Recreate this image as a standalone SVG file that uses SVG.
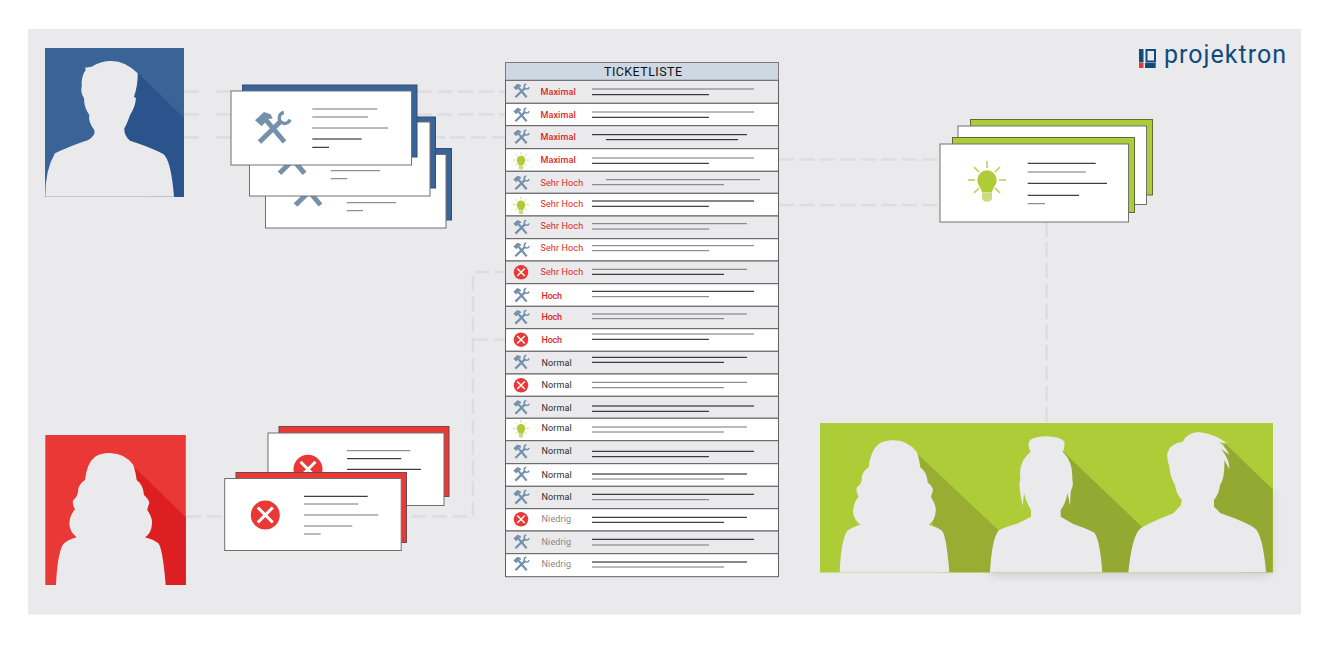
<svg xmlns="http://www.w3.org/2000/svg" xmlns:xlink="http://www.w3.org/1999/xlink" width="1333" height="649" viewBox="0 0 1333 649">
<style>
.sil{fill:#eaeaed}
.card{fill:#fff;stroke:#707070;stroke-width:1}
.k{stroke:#111;stroke-width:1;fill:none}
.g{stroke:#747474;stroke-width:1;fill:none}
.dash{stroke:#dddde0;stroke-width:2.500;stroke-dasharray:15 5.500;fill:none}
.lab{font-family:"Roboto","Liberation Sans",sans-serif;font-size:9px;letter-spacing:.1px}
.hi{fill:#dd1f24}.no{fill:#2b2b2b}.lo{fill:#868686}
.rg{fill:#eaeaed;stroke:#5f5f5f;stroke-width:1}
.rw{fill:#fff;stroke:#5f5f5f;stroke-width:1}
</style>
<defs>
<filter id="blur" filterUnits="userSpaceOnUse" x="800" y="400" width="533" height="230"><feGaussianBlur stdDeviation="5"/></filter>
<path id="fem" class="sil" d="M78 495Q82 400 100 372Q115 358 140 352Q118 335 118 310Q120 285 135 268Q125 250 130 240Q145 230 145 205Q150 190 165 180Q170 130 195 110Q215 98 240 99Q285 100 310 135Q318 160 320 180Q340 195 342 225Q358 240 358 250Q352 265 352 270Q368 295 366 310Q365 340 345 352Q370 358 385 370Q398 385 407 495Z"/>
<symbol id="tool" overflow="visible" viewBox="-20 -20 40 40" width="40" height="40">
<g fill="none" stroke="#7490ab">
<path d="M-6 -8L12.500 14" stroke-width="5"/>
<path d="M-12.500 14L9 -7" stroke-width="5"/>
<path d="M11.800 -15.500A5.500 5.500 0 1 0 18 -8.500" stroke-width="3.500"/>
</g>
<path fill="#7490ab" d="M-17 -7.700L-8 -16L-1.300 -13.700L.7 -9.300L-3.700 -9.300L-10.300 -1.700Z"/>
</symbol>
<symbol id="err" overflow="visible" viewBox="-20 -20 40 40" width="40" height="40">
<circle r="14.500" fill="#e93836"/>
<path d="M-7.500 -7.500L7.500 7.500M7.500 -7.500L-7.500 7.500" stroke="#fff" stroke-width="3" fill="none"/>
</symbol>
<symbol id="bulb" overflow="visible" viewBox="-20 -20 40 40" width="40" height="40">
<path d="M0 -19V-12M-19 0H-12M19 0H12M-13 -13L-8 -8M13 -13L8 -8M-13 13L-8 8M13 13L8 8" stroke="#b5cf50" stroke-width="1.500" fill="none"/>
<path fill="#aecb38" d="M-9.700 0A9.700 9.700 0 1 1 9.700 0C9.700 5 6 7 5 12.500H-5C-6 7 -9.700 5 -9.700 0Z"/>
<path fill="#c9dc84" d="M-5 13H5V19L2.500 21.500H-2.500L-5 19Z"/>
</symbol>
</defs>

<rect x="28" y="29" width="1273" height="585.500" fill="#eaeaed"/>

<g id="connectors">
<path class="dash" d="M184 91.500H200M216 91.500H232M184 114.500H200M216 114.500H232M184 137.500H200M216 137.500H232"/>
<path class="dash" d="M417 91.500H505M417 114.500H505M430 137.500H505"/>
<path class="dash" d="M186 516.500H473V272H505"/>
<path class="dash" d="M473 339.500H505"/>
<path class="dash" d="M779 159.500H940M779 205H940"/>
<path class="dash" d="M1046.500 222V423"/>
</g>

<g id="user-blue">
<rect x="45" y="48" width="139" height="149" fill="#3a6398"/>
<path fill="#2c548c" d="M137 72L184 118V197H150L120 130Z"/>
<path class="sil" d="M45.300 196.700Q45 170 55 153.300Q70 146 88.300 140Q96 135 94.300 130Q88 122 89.300 115Q84 108 84 98.300Q80 92 81.700 86.700Q81 76 85.700 70L85 67.700L91.700 66.700Q100 61 111.700 61Q125 61 137.700 73.300Q138 85 134 96.700L136 98.300Q135 108 130 115Q127 124 124.300 128.300Q124 136 130 140.700Q150 147 163.300 154Q171 160 174 196.700Z"/>
</g>

<g id="cards-blue">
<rect x="277" y="148.500" width="174.500" height="71.500" fill="#3a6398" stroke="#2f4f78"/>
<rect class="card" x="265.500" y="154.500" width="180.500" height="73.500"/>
<use xlink:href="#tool" href="#tool" x="288" y="171"/>
<path class="g" d="M346.700 202.700H396M346.700 210.700H363"/>
<rect x="261" y="117" width="174.500" height="71" fill="#3a6398" stroke="#2f4f78"/>
<rect class="card" x="249.500" y="122" width="180.500" height="74"/>
<use xlink:href="#tool" href="#tool" x="272" y="139.300"/>
<path class="g" d="M330.700 170.700H380M330.700 178.700H347.300"/>
<rect x="242.500" y="85" width="174.500" height="72" fill="#3a6398" stroke="#2f4f78"/>
<rect class="card" x="231" y="91" width="180.500" height="74"/>
<use xlink:href="#tool" href="#tool" x="252" y="108"/>
<path class="g" d="M312.300 109H377.300M312.300 117H368M312.300 128H388.300"/>
<path class="k" d="M312.300 139H361.700M312.300 147.300H329"/>
</g>

<g id="user-red">
<rect x="45.300" y="435" width="140.500" height="150" fill="#e93836"/>
<path fill="#dd1f22" d="M135 468L185.800 517V585H150L130 500Z"/>
<use xlink:href="#fem" href="#fem" transform="translate(30 420) scale(.33333)"/>
</g>

<g id="cards-red">
<rect x="279" y="426.500" width="170" height="70" fill="#e93836" stroke="#6b4b4b"/>
<rect class="card" x="268" y="433" width="176" height="72.500"/>
<use xlink:href="#err" href="#err" x="288" y="449.300"/>
<path class="g" d="M347 450.700H410.300"/>
<path class="k" d="M347 458.700H401.300M347 469.300H421"/>
<rect x="236" y="472.500" width="170.500" height="70" fill="#e93836" stroke="#6b4b4b"/>
<rect class="card" x="224.700" y="478.500" width="176.500" height="72"/>
<use xlink:href="#err" href="#err" x="245.300" y="495"/>
<path class="k" d="M304 496.300H367.700"/>
<path class="g" d="M304 504H358.300M304 515H378.300M304 526H352.300M304 534H320.700"/>
</g>

<g id="ticketlist">
<rect x="505.500" y="62.500" width="273" height="18" fill="#cdd8e3" stroke="#7a7a7a"/>
<text x="604" y="76" font-family="Roboto,'Liberation Sans',sans-serif" font-size="12.500" textLength="78" fill="#111">TICKETLISTE</text>
<g id="row1"><rect class="rg" x="505.500" y="80.300" width="273" height="23"/><use xlink:href="#tool" href="#tool" transform="translate(521 91) scale(.45) translate(-20 -20)"/><text class="lab hi" x="540.500" y="95" textLength="35.300" font-weight="500">Maximal</text><path class="g" d="M592 89H754"/><path class="k" d="M592 94.700H709"/></g>
<g id="row2"><rect class="rw" x="505.500" y="103.300" width="273" height="22.400"/><use xlink:href="#tool" href="#tool" transform="translate(521 115) scale(.45) translate(-20 -20)"/><text class="lab hi" x="540.500" y="118" textLength="35.300" font-weight="500">Maximal</text><path class="g" d="M592 112H754"/><path class="k" d="M592 117.300H709"/></g>
<g id="row3"><rect class="rg" x="505.500" y="125.700" width="273" height="23"/><use xlink:href="#tool" href="#tool" transform="translate(521 137) scale(.45) translate(-20 -20)"/><text class="lab hi" x="540.500" y="140" textLength="35.300" font-weight="500">Maximal</text><path class="k" d="M592 134.700H747M606 139.700H738"/></g>
<g id="row4"><rect class="rw" x="505.500" y="148.700" width="273" height="22.600"/><use xlink:href="#bulb" href="#bulb" transform="translate(521 160) scale(.44) translate(-20 -20)"/><text class="lab hi" x="540.500" y="163" textLength="35.300" font-weight="500">Maximal</text><path class="g" d="M592 158H754"/><path class="k" d="M592 163.300H709"/></g>
<g id="row5"><rect class="rg" x="505.500" y="171.300" width="273" height="22"/><use xlink:href="#tool" href="#tool" transform="translate(521 183) scale(.45) translate(-20 -20)"/><text class="lab hi" x="540.500" y="186" textLength="42.700">Sehr Hoch</text><path class="g" d="M606 179.700H760M592 184.700H724"/></g>
<g id="row6"><rect class="rw" x="505.500" y="193.300" width="273" height="22.700"/><use xlink:href="#bulb" href="#bulb" transform="translate(521 204.700) scale(.44) translate(-20 -20)"/><text class="lab hi" x="540.500" y="207" textLength="42.700">Sehr Hoch</text><path class="k" d="M592 201H754M592 206.300H709"/></g>
<g id="row7"><rect class="rg" x="505.500" y="216" width="273" height="22.700"/><use xlink:href="#tool" href="#tool" transform="translate(521 227.300) scale(.45) translate(-20 -20)"/><text class="lab hi" x="540.500" y="229" textLength="42.700">Sehr Hoch</text><path class="g" d="M592 223.700H747M592 229H709"/></g>
<g id="row8"><rect class="rw" x="505.500" y="238.700" width="273" height="22.300"/><use xlink:href="#tool" href="#tool" transform="translate(521 250) scale(.45) translate(-20 -20)"/><text class="lab hi" x="540.500" y="251" textLength="42.700">Sehr Hoch</text><path class="g" d="M592 245.700H754M592 250.700H709"/></g>
<g id="row9"><rect class="rg" x="505.500" y="261" width="273" height="22.700"/><use xlink:href="#err" href="#err" transform="translate(521 272.300) scale(.5) translate(-20 -20)"/><text class="lab hi" x="540.500" y="275" textLength="42.700">Sehr Hoch</text><path class="g" d="M592 269.300H747"/><path class="k" d="M592 274.300H724"/></g>
<g id="row10"><rect class="rw" x="505.500" y="283.700" width="273" height="22.600"/><use xlink:href="#tool" href="#tool" transform="translate(521 295.300) scale(.45) translate(-20 -20)"/><text class="lab hi" x="541.500" y="299" textLength="20.700" font-weight="500">Hoch</text><path class="k" d="M592 291.300H754"/><path class="g" d="M592 296.700H709"/></g>
<g id="row11"><rect class="rg" x="505.500" y="306.300" width="273" height="22.400"/><use xlink:href="#tool" href="#tool" transform="translate(521 317.300) scale(.45) translate(-20 -20)"/><text class="lab hi" x="541.500" y="320" textLength="20.700" font-weight="500">Hoch</text><path class="g" d="M592 314H747M592 318.700H724"/></g>
<g id="row12"><rect class="rw" x="505.500" y="328.700" width="273" height="22.600"/><use xlink:href="#err" href="#err" transform="translate(521 339.700) scale(.5) translate(-20 -20)"/><text class="lab hi" x="541.500" y="343" textLength="20.700" font-weight="500">Hoch</text><path class="g" d="M592 334H754"/><path class="k" d="M592 339.300H709"/></g>
<g id="row13"><rect class="rg" x="505.500" y="351.300" width="273" height="22.700"/><use xlink:href="#tool" href="#tool" transform="translate(521 362.300) scale(.45) translate(-20 -20)"/><text class="lab no" x="541.500" y="366" textLength="30.300">Normal</text><path class="k" d="M592 357.300H747M592 362.300H724"/></g>
<g id="row14"><rect class="rw" x="505.500" y="374" width="273" height="22.300"/><use xlink:href="#err" href="#err" transform="translate(521 385.300) scale(.5) translate(-20 -20)"/><text class="lab no" x="541.500" y="388" textLength="30.300">Normal</text><path class="g" d="M592 382.300H747M592 387.700H724"/></g>
<g id="row15"><rect class="rg" x="505.500" y="396.300" width="273" height="22"/><use xlink:href="#tool" href="#tool" transform="translate(521 407.500) scale(.45) translate(-20 -20)"/><text class="lab no" x="541.500" y="411" textLength="30.300">Normal</text><path class="k" d="M592 406H754M592 411.300H709"/></g>
<g id="row16"><rect class="rw" x="505.500" y="418.300" width="273" height="22.400"/><use xlink:href="#bulb" href="#bulb" transform="translate(521 428.300) scale(.44) translate(-20 -20)"/><text class="lab no" x="541.500" y="431" textLength="30.300">Normal</text><path class="g" d="M592 427H747M592 432H724"/></g>
<g id="row17"><rect class="rg" x="505.500" y="440.700" width="273" height="23"/><use xlink:href="#tool" href="#tool" transform="translate(521 451.700) scale(.45) translate(-20 -20)"/><text class="lab no" x="541.500" y="454" textLength="30.300">Normal</text><path class="k" d="M592 451.300H754M592 456.700H709"/></g>
<g id="row18"><rect class="rw" x="505.500" y="463.700" width="273" height="22.600"/><use xlink:href="#tool" href="#tool" transform="translate(521 474.300) scale(.45) translate(-20 -20)"/><text class="lab no" x="541.500" y="478" textLength="30.300">Normal</text><path class="k" d="M592 474H747"/><path class="g" d="M592 479H724"/></g>
<g id="row19"><rect class="rg" x="505.500" y="486.300" width="273" height="22.400"/><use xlink:href="#tool" href="#tool" transform="translate(521 497.300) scale(.45) translate(-20 -20)"/><text class="lab no" x="541.500" y="500" textLength="30.300">Normal</text><path class="k" d="M592 494.300H754"/><path class="g" d="M592 499.700H709"/></g>
<g id="row20"><rect class="rw" x="505.500" y="508.700" width="273" height="22.300"/><use xlink:href="#err" href="#err" transform="translate(521 519.300) scale(.5) translate(-20 -20)"/><text class="lab lo" x="541.500" y="522" textLength="29.700">Niedrig</text><path class="k" d="M592 517.300H747M592 522.300H724"/></g>
<g id="row21"><rect class="rg" x="505.500" y="531" width="273" height="22.700"/><use xlink:href="#tool" href="#tool" transform="translate(521 542) scale(.45) translate(-20 -20)"/><text class="lab lo" x="541.500" y="545" textLength="29.700">Niedrig</text><path class="k" d="M592 539.300H754"/><path class="g" d="M592 545H709"/></g>
<g id="row22"><rect class="rw" x="505.500" y="553.700" width="273" height="23"/><use xlink:href="#tool" href="#tool" transform="translate(521 564) scale(.45) translate(-20 -20)"/><text class="lab lo" x="541.500" y="567" textLength="29.700">Niedrig</text><path class="k" d="M592 562H747"/><path class="g" d="M592 567H724"/></g>
</g>

<g id="cards-green">
<rect x="970.500" y="119.500" width="182" height="75.500" fill="#aecb38" stroke="#5f6a3a"/>
<rect class="card" x="958" y="126" width="188.500" height="78.500"/>
<rect x="952.500" y="137.500" width="182" height="75" fill="#aecb38" stroke="#5f6a3a"/>
<rect class="card" x="940" y="144" width="188.500" height="78"/>
<use xlink:href="#bulb" href="#bulb" x="967" y="160"/>
<path class="k" d="M1027.700 163.300H1095.700M1027.700 183.300H1107M1027.700 195.300H1079"/>
<path class="g" d="M1027.700 172H1085.700M1027.700 203.700H1045"/>
</g>

<g id="team-green">
<rect x="990" y="564" width="280" height="11" fill="#000" opacity=".13" filter="url(#blur)"/>
<rect x="1266" y="490" width="9" height="80" fill="#000" opacity=".06" filter="url(#blur)"/>
<rect x="820" y="423" width="453" height="149.500" fill="#aecb38"/>
<g transform="translate(810 410) scale(.33333)">
<path fill="#98ad32" d="M320 130L570 365L540 487H400Z"/>
<path fill="#93a931" d="M760 125L995 350L955 487H850L700 300Z"/>
<path fill="#93a931" d="M1245 100L1388 238V487H1300L1200 300Z"/>
<path class="sil" d="M540 487Q545 390 565 362Q590 348 625 340L663 320V300Q650 280 642 250L638 288Q630 250 628 225Q632 210 630 190Q630 150 662 125Q650 105 660 90Q680 78 710 79Q750 80 763 95Q765 115 758 125Q790 155 787 210Q792 225 782 245L780 288L773 250Q765 285 752 300V320L790 342Q840 360 853 368Q870 390 877 487Z"/>
<path class="sil" d="M955 487Q965 390 985 362Q1000 345 1090 310L1113 285L1115 270Q1098 250 1095 225Q1080 200 1078 170Q1070 150 1072 130Q1080 100 1118 95Q1130 70 1165 66Q1210 70 1252 100L1228 97Q1250 115 1258 135L1232 115Q1260 150 1258 178L1243 150Q1245 205 1230 225Q1228 250 1212 270V290L1232 310Q1320 340 1340 360Q1360 390 1368 487Z"/>
</g>
<use xlink:href="#fem" href="#fem" transform="translate(813.670 407.330) scale(.33333)"/>
</g>

<g id="logo">
<rect x="1139" y="49" width="4.500" height="13.500" fill="#0f4c7c"/>
<rect x="1139" y="63" width="4.500" height="5" fill="#e93836"/>
<rect x="1146.500" y="50" width="8.500" height="11.500" fill="none" stroke="#0f4c7c" stroke-width="2"/>
<rect x="1145" y="63" width="10.700" height="5" fill="#0f4c7c"/>
<text x="1164" y="62.500" font-family="Roboto,'Liberation Sans',sans-serif" font-weight="400" font-size="25" textLength="122" fill="#0f4c7c">projektron</text>
</g>
</svg>
